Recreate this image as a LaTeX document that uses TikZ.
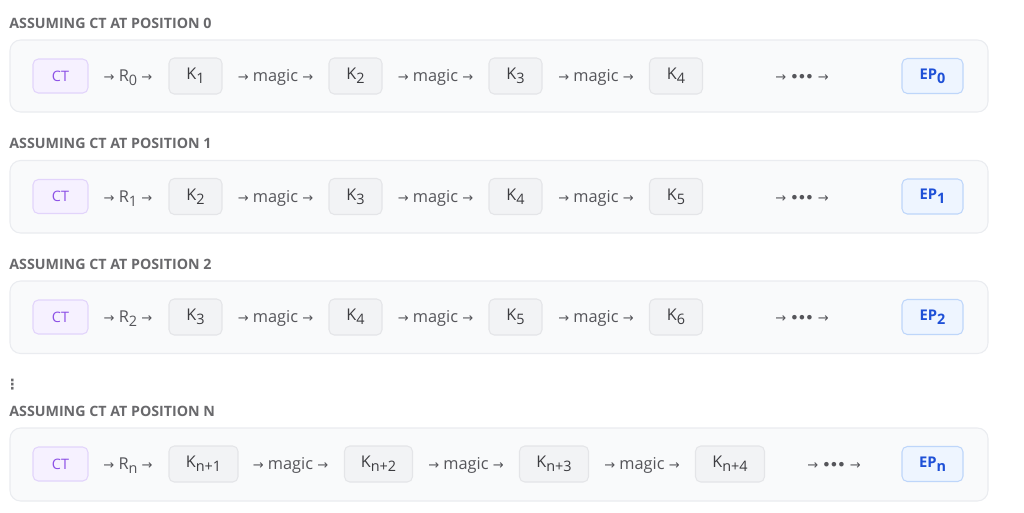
\documentclass[tikz,border=0pt]{standalone}
\usepackage{fontspec}
\setmainfont{Open Sans}
\newfontfamily\arrowfont{DejaVu Sans}
\usepackage{tikz}
\usetikzlibrary{positioning}

\definecolor{headgray}{RGB}{105, 105, 108}
\definecolor{rowfill}{RGB}{249, 250, 251}
\definecolor{rowline}{RGB}{234, 236, 240}
\definecolor{ctfill}{RGB}{246, 241, 255}
\definecolor{ctline}{RGB}{226, 212, 251}
\definecolor{cttext}{RGB}{140, 80, 230}
\definecolor{kfill}{RGB}{242, 243, 245}
\definecolor{kline}{RGB}{228, 229, 232}
\definecolor{ktext}{RGB}{60, 60, 64}
\definecolor{epfill}{RGB}{238, 245, 255}
\definecolor{epline}{RGB}{190, 214, 250}
\definecolor{eptext}{RGB}{30, 80, 215}
\definecolor{flowtext}{RGB}{85, 85, 90}

\newcommand{\ra}{{\arrowfont\fontsize{7.4}{7}\selectfont\char"2192}}
\newcommand{\ellip}{{\arrowfont\fontsize{7.4}{7}\selectfont\bfseries\char"2022\kern-0.5pt\char"2022\kern-0.5pt\char"2022}}
\newcommand{\idx}[1]{\raisebox{-0.45ex}{\fontsize{8.2}{8}\selectfont #1}}

\tikzset{
  heading/.style={anchor=west, inner sep=0pt, text=headgray, font=\fontsize{8.1}{9}\selectfont\bfseries},
  rowbox/.style={draw=rowline, fill=rowfill, rounded corners=6pt, line width=0.6pt},
  ctbox/.style={draw=ctline, fill=ctfill, rounded corners=3pt, line width=0.6pt, minimum width=1.1cm, minimum height=0.68cm, inner sep=0pt, text=cttext, font=\fontsize{8.2}{9}\selectfont},
  kbox/.style={draw=kline, fill=kfill, rounded corners=3pt, line width=0.6pt, minimum width=1.06cm, minimum height=0.72cm, inner sep=0pt, text=ktext, font=\fontsize{9.2}{10}\selectfont},
  epbox/.style={draw=epline, fill=epfill, rounded corners=3pt, line width=0.6pt, minimum width=1.22cm, minimum height=0.7cm, inner sep=0pt, text=eptext, font=\fontsize{8.4}{9}\selectfont\bfseries},
  flow/.style={inner sep=0pt, anchor=base, yshift=-3.4pt, text=flowtext, font=\fontsize{9.3}{10}\selectfont}
}

\begin{document}
\begin{tikzpicture}[x=0.02cm, y=-0.02cm]
  \useasboundingbox[fill=white] (0,0) rectangle (1024,512);

  % Position 0
  \node[heading] (h0) at (9,23) {ASSUMING CT AT POSITION 0};
  \draw[rowbox] (10,40) rectangle (988,112);
  \node[ctbox] (ct0) at (60.5,76) {CT};
  \node[flow] (r0) at (128,76) {\ra\ R\idx{0} \ra};
  \node[kbox] (k0a) at (195.5,76) {K\idx{1}};
  \node[flow] (m0a) at (275.5,76) {\ra\ magic \ra};
  \node[kbox] (k0b) at (355.5,76) {K\idx{2}};
  \node[flow] (m0b) at (435.5,76) {\ra\ magic \ra};
  \node[kbox] (k0c) at (515.5,76) {K\idx{3}};
  \node[flow] (m0c) at (596,76) {\ra\ magic \ra};
  \node[kbox] (k0d) at (676,76) {K\idx{4}};
  \node[flow] (d0) at (802,76) {\ra\ \ellip\ \ra};
  \node[epbox] (ep0) at (932.5,76) {EP\idx{0}};

  % Position 1
  \node[heading] (h1) at (9,143.5) {ASSUMING CT AT POSITION 1};
  \draw[rowbox] (10,160.5) rectangle (988,233);
  \node[ctbox] (ct1) at (60.5,196.5) {CT};
  \node[flow] (r1) at (128,196.5) {\ra\ R\idx{1} \ra};
  \node[kbox] (k1a) at (195.5,196.5) {K\idx{2}};
  \node[flow] (m1a) at (275.5,196.5) {\ra\ magic \ra};
  \node[kbox] (k1b) at (355.5,196.5) {K\idx{3}};
  \node[flow] (m1b) at (435.5,196.5) {\ra\ magic \ra};
  \node[kbox] (k1c) at (515.5,196.5) {K\idx{4}};
  \node[flow] (m1c) at (596,196.5) {\ra\ magic \ra};
  \node[kbox] (k1d) at (676,196.5) {K\idx{5}};
  \node[flow] (d1) at (802,196.5) {\ra\ \ellip\ \ra};
  \node[epbox] (ep1) at (932.5,196.5) {EP\idx{1}};

  % Position 2
  \node[heading] (h2) at (9,264) {ASSUMING CT AT POSITION 2};
  \draw[rowbox] (10,281) rectangle (988,353.5);
  \node[ctbox] (ct2) at (60.5,317) {CT};
  \node[flow] (r2) at (128,317) {\ra\ R\idx{2} \ra};
  \node[kbox] (k2a) at (195.5,317) {K\idx{3}};
  \node[flow] (m2a) at (275.5,317) {\ra\ magic \ra};
  \node[kbox] (k2b) at (355.5,317) {K\idx{4}};
  \node[flow] (m2b) at (435.5,317) {\ra\ magic \ra};
  \node[kbox] (k2c) at (515.5,317) {K\idx{5}};
  \node[flow] (m2c) at (596,317) {\ra\ magic \ra};
  \node[kbox] (k2d) at (676,317) {K\idx{6}};
  \node[flow] (d2) at (802,317) {\ra\ \ellip\ \ra};
  \node[epbox] (ep2) at (932.5,317) {EP\idx{2}};

  % Skipped rows
  \node[inner sep=0pt, text=headgray, font=\arrowfont\fontsize{8}{9}\selectfont\bfseries] (vdots) at (12.5,385) {\char"22EE};

  % Position n
  \node[heading] (hn) at (9,411) {ASSUMING CT AT POSITION N};
  \draw[rowbox] (10,428) rectangle (988,501);
  \node[ctbox] (ctn) at (60.5,464) {CT};
  \node[flow] (rn) at (128,464) {\ra\ R\idx{n} \ra};
  \node[kbox, minimum width=1.38cm] (kna) at (203.5,464) {K\idx{n+1}};
  \node[flow] (mna) at (290.5,464) {\ra\ magic \ra};
  \node[kbox, minimum width=1.36cm] (knb) at (378.5,464) {K\idx{n+2}};
  \node[flow] (mnb) at (466,464) {\ra\ magic \ra};
  \node[kbox, minimum width=1.38cm] (knc) at (554,464) {K\idx{n+3}};
  \node[flow] (mnc) at (642,464) {\ra\ magic \ra};
  \node[kbox, minimum width=1.38cm] (knd) at (730,464) {K\idx{n+4}};
  \node[flow] (dn) at (834,464) {\ra\ \ellip\ \ra};
  \node[epbox] (epn) at (932.5,464) {EP\idx{n}};
\end{tikzpicture}
\end{document}
